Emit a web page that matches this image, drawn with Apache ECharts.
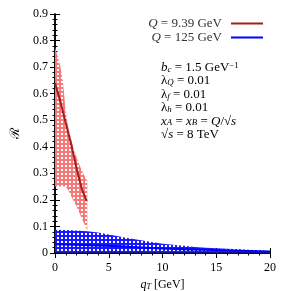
<!DOCTYPE html>
<html><head><meta charset="utf-8">
<script src="https://cdn.jsdelivr.net/npm/echarts@6/dist/echarts.min.js"></script>
<style>html,body{margin:0;padding:0;background:#fff}#c{width:291px;height:291px}</style>
</head><body><div id="c"></div>
<script>
// ---- data ----
const redBandX     = [0, 0.25, 0.5, 0.75, 1, 1.25, 1.5, 1.75, 2, 2.5, 3];
const redBandUpper = [0.775, 0.74, 0.70, 0.64, 0.53, 0.47, 0.43, 0.39, 0.36, 0.31, 0.27];
const redBandLower = [0.25, 0.25, 0.25, 0.25, 0.25, 0.235, 0.215, 0.195, 0.175, 0.13, 0.085];
const redLineX     = [0, 0.5, 1, 1.5, 2, 2.5, 2.95];
const redLineY     = [0.64, 0.57, 0.49, 0.41, 0.32, 0.24, 0.195];
const blueBandX     = [0, 1, 2, 3, 4, 5, 6, 7, 8, 9, 10, 11, 12, 13, 14, 15, 16, 17, 18, 19, 20];
const blueBandUpper = [0.088, 0.087, 0.085, 0.082, 0.077, 0.07, 0.062, 0.055, 0.048, 0.041, 0.035, 0.031, 0.027, 0.023, 0.02, 0.018, 0.016, 0.014, 0.012, 0.01, 0.008];
const blueBandLower = [0.002, 0.002, 0.002, 0.002, 0.002, 0.002, 0.002, 0.002, 0.002, 0.002, 0.002, 0.002, 0.002, 0.002, 0.002, 0.002, 0.002, 0.002, 0.002, 0.002, 0.002];
const blueLineX = [0, 2, 4, 6, 8, 10, 12, 14, 16, 18, 20];
const blueLineY = [0.033, 0.031, 0.028, 0.025, 0.021, 0.017, 0.014, 0.012, 0.01, 0.008, 0.006];
const xTicks = [0, 5, 10, 15, 20];
const yTicks = [0, 0.1, 0.2, 0.3, 0.4, 0.5, 0.6, 0.7, 0.8, 0.9];
const legendNames = ['Q9', 'Q125'];
const legendLabels = {Q9: '{i|Q} = 9.39 GeV', Q125: '{i|Q} = 125 GeV'};

// ---- styles ----
const FONT = 'Liberation Serif';
function pattern(color) {
  const c = document.createElement('canvas');
  c.width = 4; c.height = 4;
  const g = c.getContext('2d');
  g.fillStyle = color; g.fillRect(0, 0, 4, 4);
  g.fillStyle = '#ffffff'; g.fillRect(1, 1, 2, 2);
  return {image: c, repeat: 'repeat'};
}
const pairs = (xs, ys) => xs.map((x, i) => [x, ys[i]]);
function bandSeries(xs, up, lo, fill) {
  return {
    type: 'custom', coordinateSystem: 'cartesian2d', silent: true, z: 1,
    data: xs.map((x, i) => [x, up[i], lo[i]]),
    encode: {x: 0, y: [1, 2]},
    renderItem: function (params, api) {
      if (params.dataIndex !== 0) return null;
      const pts = [];
      for (let i = 0; i < xs.length; i++) pts.push(api.coord([xs[i], up[i]]));
      for (let i = xs.length - 1; i >= 0; i--) pts.push(api.coord([xs[i], lo[i]]));
      return {type: 'polygon', shape: {points: pts}, style: {fill: fill, stroke: null}};
    }
  };
}

const chart = echarts.init(document.getElementById('c'), null, {renderer: 'canvas'});
const axisCommon = {
  axisLine: {lineStyle: {color: '#000', width: 1.5}},
  axisTick: {inside: true, length: 5, lineStyle: {color: '#000'}},
  minorTick: {show: true, splitNumber: 5, length: 2.5, lineStyle: {color: '#000'}},
  splitLine: {show: false}
};
function mkRich(sz, col) {
  return {
    i: {fontFamily: FONT, fontStyle: 'italic', fontSize: sz, color: col, fill: col},
    n: {fontFamily: FONT, fontSize: sz, color: col, fill: col},
    s: {fontFamily: FONT, fontStyle: 'italic', fontSize: sz * 0.68, lineHeight: 8, verticalAlign: 'bottom', color: col, fill: col},
    p: {fontFamily: FONT, fontSize: sz * 0.68, lineHeight: 8, verticalAlign: 'top', color: col, fill: col}
  };
}
const rich = mkRich(13, '#000');
const annot = [
  '{i|b}{s|c}{n| = 1.5 GeV}{p|−1}',
  '{n|λ}{s|Q}{n| = 0.01}',
  '{n|λ}{s|f}{n| = 0.01}',
  '{n|λ}{s|h}{n| = 0.01}',
  '{i|x}{s|A}{n| = }{i|x}{s|B}{n| = }{i|Q}{n|/√}{i|s}',
  '{n|√}{i|s}{n| = 8 TeV}'
];
const option = {
  animation: false,
  grid: {left: 55, right: 21, top: 14, bottom: 38, outerBoundsMode: 'none', containLabel: false},
  xAxis: [
    Object.assign({type: 'value', min: 0, max: 20, interval: 5, name: '{i|q}{s|T}{n| [GeV]}', nameLocation: 'middle', nameGap: 26,
      nameTextStyle: {rich: mkRich(12, '#000')},
      axisLabel: {fontFamily: FONT, fontSize: 12, color: '#000', margin: 9, formatter: v => xTicks.includes(v) ? String(v) : ''}}, axisCommon),
    Object.assign({type: 'value', min: 0, max: 20, interval: 5, position: 'top', axisLabel: {show: false}}, axisCommon)
  ],
  yAxis: [
    Object.assign({type: 'value', min: 0, max: 0.9, interval: 0.1, name: 'ℛ', nameLocation: 'middle', nameGap: 33,
      nameTextStyle: {fontFamily: FONT, fontSize: 13, color: '#000'},
      axisLabel: {fontFamily: FONT, fontSize: 12, color: '#000', margin: 7,
        formatter: v => { const t = yTicks.find(y => Math.abs(y - v) < 1e-9); return t === undefined ? '' : (t === 0 ? '0' : t.toFixed(1)); }}}, axisCommon),
    Object.assign({type: 'value', min: 0, max: 0.9, interval: 0.1, position: 'right', axisLabel: {show: false}}, axisCommon)
  ],
  legend: {
    data: legendNames, orient: 'vertical', right: 28, top: 17, align: 'right', itemGap: 1, padding: 0,
    itemWidth: 32, itemHeight: 2, icon: 'rect',
    formatter: n => legendLabels[n],
    textStyle: {fontFamily: FONT, fontSize: 13, color: '#333', padding: [0, 4, 0, 0], rich: {i: {fontFamily: FONT, fontStyle: 'italic', fontSize: 13, color: '#333'}}}
  },
  series: [
    bandSeries(redBandX, redBandUpper, redBandLower, pattern('#f47a7a')),
    bandSeries(blueBandX, blueBandUpper, blueBandLower, pattern('#1a1aff')),
    {type: 'line', name: 'Q9', z: 3, data: pairs(redLineX, redLineY), symbol: 'none', color: '#a51c1c', lineStyle: {color: '#a51c1c', width: 2}},
    {type: 'line', name: 'Q125', z: 3, data: pairs(blueLineX, blueLineY), symbol: 'none', color: '#0000ff', lineStyle: {color: '#0000ff', width: 2}}
  ],
  graphic: annot.map((t, k) => ({type: 'text', left: 161, top: 61 + k * 13.4, style: {text: t, rich: rich, fill: '#000'}}))
};
chart.setOption(option);
</script></body></html>
